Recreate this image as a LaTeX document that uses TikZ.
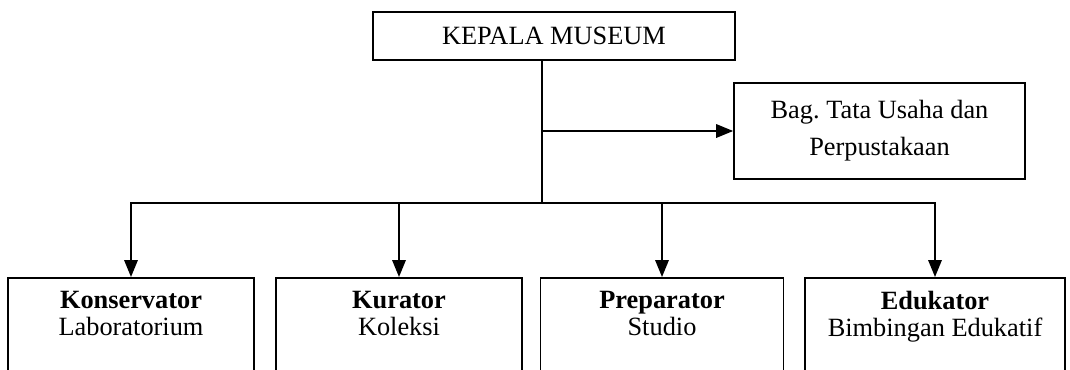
\documentclass[tikz,border=0pt]{standalone}
\usepackage{fontspec}
\setmainfont{Liberation Serif}
\usetikzlibrary{arrows.meta}
\begin{document}
\begin{tikzpicture}[x=0.02cm, y=-0.02cm, line width=1pt,
    box/.style={draw, rectangle, inner sep=0pt, align=center, font=\fontsize{15}{18}\selectfont},
    unit/.style={draw, rectangle, anchor=north, inner xsep=0pt, inner ysep=0.27cm, align=center, text depth=2cm, font=\fontsize{15}{15.5}\selectfont},
    arr/.style={-{Triangle[length=0.34cm, width=0.27cm]}}]
    \path[use as bounding box, clip] (0,0) rectangle (1070,369);

    % kepala dan staf
    \node[box, minimum width=7.24cm, minimum height=0.96cm] (kepala) at (554,36) {KEPALA MUSEUM};
    \node[box, minimum width=5.82cm, minimum height=1.92cm] (tatausaha) at (879.5,131) {Bag.\ Tata Usaha dan\\[3pt]Perpustakaan};

    % unit bawah
    \node[unit, minimum width=4.92cm] (konservator) at (131,277) {\textbf{Konservator}\\Laboratorium};
    \node[unit, minimum width=4.92cm] (kurator) at (399,277) {\textbf{Kurator}\\Koleksi};
    \node[unit, minimum width=4.86cm] (preparator) at (662,277) {\textbf{Preparator}\\Studio};
    \node[unit, minimum width=5.2cm] (edukator) at (935,277) {\textbf{Edukator}\\Bimbingan Edukatif};

    % garis
    \coordinate (trunk) at (542,203);
    \draw (kepala.south -| trunk) -- (trunk);
    \draw[arr] (trunk |- tatausaha.west) -- (tatausaha.west);
    \foreach \n in {konservator,kurator,preparator,edukator}
        \draw[arr] (trunk) -| (\n.north);
\end{tikzpicture}
\end{document}
